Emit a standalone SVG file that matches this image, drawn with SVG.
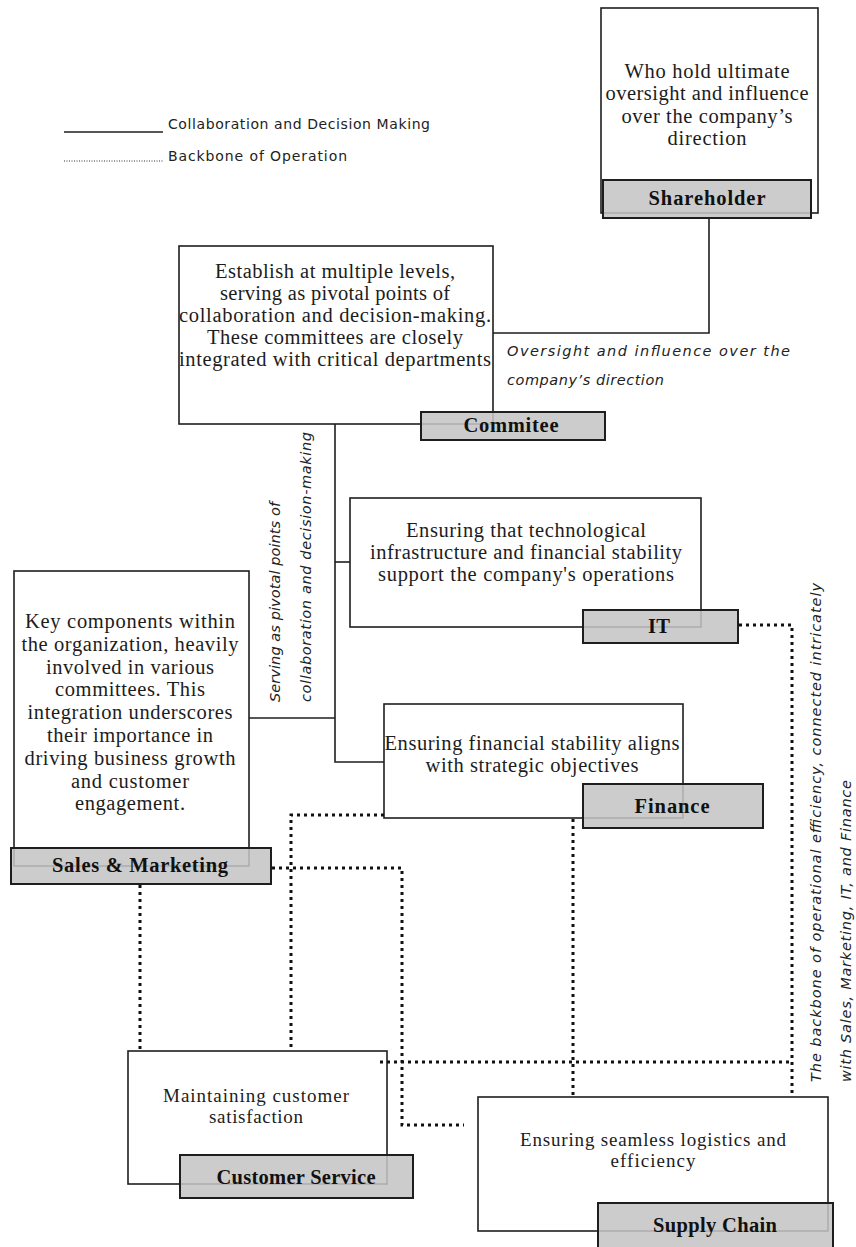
<svg xmlns="http://www.w3.org/2000/svg" width="856" height="1247" viewBox="0 0 856 1247">
  <style>
    .box { fill: #ffffff; stroke: #1e1e1e; stroke-width: 1.6; }
    .tag { fill: #c4c4c4; fill-opacity: 0.87; stroke: #1e1e1e; stroke-width: 2; }
    .body { font-family: "Liberation Serif", "Times New Roman", serif; font-size: 20.5px; fill: #1c1c1c; text-anchor: middle; }
    .tight { font-size: 19px; }
    .tagtxt { font-family: "Liberation Serif", "Times New Roman", serif; font-weight: bold; font-size: 20.5px; fill: #111111; text-anchor: middle; }
    .solid { fill: none; stroke: #1e1e1e; stroke-width: 1.6; }
    .dot { fill: none; stroke: #111111; stroke-width: 3; stroke-dasharray: 3 4; }
    .note { font-family: "DejaVu Sans", "Liberation Sans", sans-serif; font-style: italic; font-size: 14.5px; fill: #222222; }
    .legend { font-family: "DejaVu Sans", "Liberation Sans", sans-serif; font-size: 14px; fill: #222222; }
  </style>

  <!-- legend -->
  <g id="legend">
    <line x1="64" y1="132" x2="163" y2="132" stroke="#1e1e1e" stroke-width="1.5"/>
    <text class="legend" x="168" y="129" textLength="262">Collaboration and Decision Making</text>
    <line x1="64" y1="161" x2="163" y2="161" stroke="#333333" stroke-width="1" stroke-dasharray="1 1.5"/>
    <text class="legend" x="168" y="161" textLength="179">Backbone of Operation</text>
  </g>

  <!-- shareholder -->
  <g id="shareholder">
    <rect class="box" x="601" y="8" width="217" height="205"/>
    <text class="body" x="707" y="78" textLength="165">Who hold ultimate</text>
    <text class="body" x="707" y="100" textLength="203">oversight and influence</text>
    <text class="body" x="707" y="123" textLength="171">over the company’s</text>
    <text class="body" x="707" y="145" textLength="79">direction</text>
    <rect class="tag" x="603" y="180" width="208" height="38"/>
    <text class="tagtxt" x="707" y="205" textLength="117">Shareholder</text>
  </g>

  <!-- committee -->
  <g id="committee">
    <rect class="box" x="179" y="246" width="314" height="178"/>
    <text class="body" x="335" y="278" textLength="240">Establish at multiple levels,</text>
    <text class="body" x="335" y="300" textLength="230">serving as pivotal points of</text>
    <text class="body" x="335" y="322" textLength="312">collaboration and decision-making.</text>
    <text class="body" x="335" y="344" textLength="256">These committees are closely</text>
    <text class="body" x="335" y="366" textLength="312">integrated with critical departments</text>
    <rect class="tag" x="421" y="412" width="184" height="28"/>
    <text class="tagtxt" x="511" y="432" textLength="95">Commitee</text>
  </g>

  <!-- IT -->
  <g id="it">
    <rect class="box" x="350" y="498" width="351" height="129"/>
    <text class="body" x="526" y="537" textLength="240">Ensuring that technological</text>
    <text class="body" x="526" y="559" textLength="312">infrastructure and financial stability</text>
    <text class="body" x="526" y="581" textLength="296">support the company's operations</text>
    <rect class="tag" x="583" y="610" width="155" height="33"/>
    <text class="tagtxt" x="659" y="633" textLength="22">IT</text>
  </g>

  <!-- finance -->
  <g id="finance">
    <rect class="box" x="384" y="704" width="299" height="114"/>
    <text class="body" x="532" y="750" textLength="295">Ensuring financial stability aligns</text>
    <text class="body" x="532" y="772" textLength="213">with strategic objectives</text>
    <rect class="tag" x="583" y="784" width="180" height="44"/>
    <text class="tagtxt" x="672" y="813" textLength="75">Finance</text>
  </g>

  <!-- sales and marketing -->
  <g id="sales-marketing">
    <rect class="box" x="14" y="571" width="235" height="295"/>
    <text class="body" x="130" y="628" textLength="210">Key components within</text>
    <text class="body" x="130" y="651" textLength="217">the organization, heavily</text>
    <text class="body" x="130" y="674" textLength="168">involved in various</text>
    <text class="body" x="130" y="696" textLength="150">committees. This</text>
    <text class="body" x="130" y="719" textLength="205">integration underscores</text>
    <text class="body" x="130" y="742" textLength="166">their importance in</text>
    <text class="body" x="130" y="765" textLength="211">driving business growth</text>
    <text class="body" x="130" y="788" textLength="118">and customer</text>
    <text class="body" x="130" y="810" textLength="110">engagement.</text>
    <rect class="tag" x="11" y="848" width="260" height="36"/>
    <text class="tagtxt" x="140" y="872" textLength="176">Sales &amp; Marketing</text>
  </g>

  <!-- customer service -->
  <g id="customer-service">
    <rect class="box" x="128" y="1051" width="259" height="133"/>
    <text class="body tight" x="256" y="1102" textLength="186">Maintaining customer</text>
    <text class="body tight" x="256" y="1123" textLength="94">satisfaction</text>
    <rect class="tag" x="180" y="1155" width="233" height="43"/>
    <text class="tagtxt" x="296" y="1184" textLength="159">Customer Service</text>
  </g>

  <!-- supply chain -->
  <g id="supply-chain">
    <rect class="box" x="478" y="1097" width="350" height="134"/>
    <text class="body tight" x="653" y="1146" textLength="266">Ensuring seamless logistics and</text>
    <text class="body tight" x="653" y="1167" textLength="85">efficiency</text>
    <rect class="tag" x="598" y="1203" width="235" height="48"/>
    <text class="tagtxt" x="715" y="1232" textLength="124">Supply Chain</text>
  </g>

  <!-- connectors -->
  <g id="connectors">
    <path class="solid" d="M709,218 V333 H493"/>
    <path class="solid" d="M335,424 V762 H384"/>
    <path class="solid" d="M335,562 H350"/>
    <path class="solid" d="M249,718 H335"/>

    <path class="dot" d="M140,885 V1051"/>
    <path class="dot" d="M272,868 H402 V1125 H464"/>
    <path class="dot" d="M384,815 H291 V1049"/>
    <path class="dot" d="M573,819 V1097"/>
    <path class="dot" d="M739,625 H792 V1097"/>
    <path class="dot" d="M380,1062 H792"/>
  </g>

  <!-- connector notes -->
  <g id="notes">
    <text class="note" x="507" y="356" textLength="283">Oversight and influence over the</text>
    <text class="note" x="507" y="385" textLength="157">company’s direction</text>
    <text class="note" transform="translate(280,702) rotate(-90)" textLength="200">Serving as pivotal points of</text>
    <text class="note" transform="translate(311,702) rotate(-90)" textLength="270">collaboration and decision-making</text>
    <text class="note" transform="translate(821,1082) rotate(-90)" textLength="499">The backbone of operational efficiency, connected intricately</text>
    <text class="note" transform="translate(851,1082) rotate(-90)" textLength="302">with Sales, Marketing, IT, and Finance</text>
  </g>
</svg>
